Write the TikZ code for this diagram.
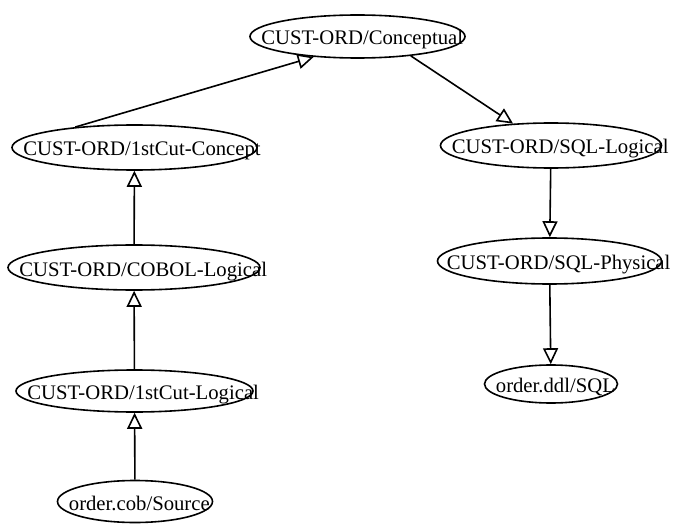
\documentclass[tikz,border=0pt]{standalone}
\usepackage{fontspec}
\setmainfont{Liberation Serif}
\usetikzlibrary{shapes.geometric,arrows.meta}
\tikzset{
  ell/.style={draw, ellipse, line width=1.6pt, inner sep=0pt},
  lbl/.style={inner sep=0pt, anchor=base west, font=\fontsize{20.7}{25}\selectfont},
  edge/.style={line width=1.6pt, -{Triangle[open, length=16pt, width=15pt, line width=1.6pt]}}
}
\begin{document}
\begin{tikzpicture}[x=1pt, y=-1pt]
\useasboundingbox (0,0) rectangle (675,524);
% ellipses
\node[ell, minimum width=215pt, minimum height=43pt] (conc) at (357.5,36.5) {};
\node[ell, minimum width=245pt, minimum height=45pt] (fcc) at (134.5,147.5) {};
\node[ell, minimum width=252pt, minimum height=45pt] (cobol) at (134,267.5) {};
\node[ell, minimum width=237pt, minimum height=42pt] (fcl) at (134.5,391) {};
\node[ell, minimum width=155pt, minimum height=42pt] (src) at (135,501.5) {};
\node[ell, minimum width=221pt, minimum height=45pt] (sqll) at (551,145.5) {};
\node[ell, minimum width=224pt, minimum height=46pt] (sqlp) at (549.5,261) {};
\node[ell, minimum width=133pt, minimum height=38pt] (ddl) at (551,384) {};
% labels
\node[lbl] (conc-t) at ([xshift=12pt, yshift=-8.5pt]conc.west) {CUST-ORD/Conceptual};
\node[lbl] (fcc-t) at ([xshift=12pt, yshift=-8.5pt]fcc.west) {CUST-ORD/1stCut-Concept};
\node[lbl] (cobol-t) at ([xshift=12pt, yshift=-8.5pt]cobol.west) {CUST-ORD/COBOL-Logical};
\node[lbl] (fcl-t) at ([xshift=12pt, yshift=-8.5pt]fcl.west) {CUST-ORD/1stCut-Logical};
\node[lbl] (src-t) at ([xshift=12pt, yshift=-8.5pt]src.west) {order.cob/Source};
\node[lbl] (sqll-t) at ([xshift=12pt, yshift=-8.5pt]sqll.west) {CUST-ORD/SQL-Logical};
\node[lbl] (sqlp-t) at ([xshift=10pt, yshift=-8.5pt]sqlp.west) {CUST-ORD/SQL-Physical};
\node[lbl] (ddl-t) at ([xshift=12pt, yshift=-8.5pt]ddl.west) {order.ddl/SQL};
% edges
\draw[edge] (src) -- (fcl);
\draw[edge] (fcl) -- (cobol);
\draw[edge] (cobol) -- (fcc);
\draw[edge] (fcc.161) -- (conc.205);
\draw[edge] (conc.340) -- (sqll.150);
\draw[edge] (sqll) -- (sqlp);
\draw[edge] (sqlp) -- (ddl);
\end{tikzpicture}
\end{document}
